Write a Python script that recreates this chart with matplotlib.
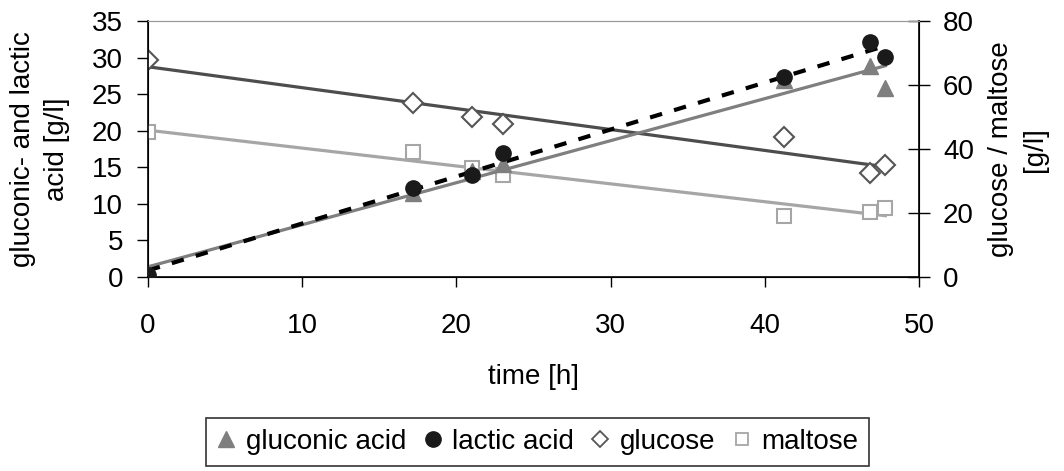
import numpy as np
import matplotlib
matplotlib.use('Agg')
import matplotlib.pyplot as plt

plt.rcParams['font.family'] = ['Liberation Sans', 'DejaVu Sans']

# time points [h]
time = [0, 17.2, 21, 23, 41.2, 46.8, 47.8]
# acids [g/l] (left axis)
gluconic = [0.0, 11.5, 14.5, 15.4, 27.0, 28.8, 25.9]
lactic = [0.3, 12.2, 13.9, 17.0, 27.3, 32.1, 30.1]
# sugars [g/l] (right axis)
glucose = [67.8, 54.4, 50.0, 47.8, 43.8, 32.5, 35.0]
maltose = [45.3, 39.0, 34.0, 32.0, 19.0, 20.3, 21.5]

t = np.array(time)
tt = np.array([0, max(time)])

def trend(y):
    k, d = np.polyfit(t, np.array(y), 1)
    return k * tt + d

fig = plt.figure(figsize=(10.64, 4.71), dpi=100)
ax = fig.add_axes([0.139, 0.412, 0.725, 0.543])
ax2 = ax.twinx()

# sugars on secondary axis
ax2.plot(tt, trend(glucose), color='#4d4d4d', lw=2.3, zorder=2)
ax2.plot(tt, trend(maltose), color='#a6a6a6', lw=2.3, zorder=2)
ax2.plot(time, glucose, 'D', ms=10, mfc='white', mec='#555555', mew=1.5, zorder=3)
ax2.plot(time, maltose, 's', ms=10, mfc='white', mec='#a6a6a6', mew=1.5, zorder=3)

ax2.set_zorder(1)
ax.set_zorder(2)
ax.patch.set_visible(False)

ax.plot(tt, trend(gluconic), color='#7f7f7f', lw=2.3, zorder=2)
ax.plot(tt, trend(lactic), color='black', lw=3, ls=(0, (3, 3)), zorder=2)
ax.plot(time, gluconic, '^', ms=12, color='#7f7f7f', zorder=3)
ax.plot(time, lactic, 'o', ms=11, color='#1a1a1a', zorder=4)

ax.set_xlim(0, 50)
ax.set_ylim(0, 35)
ax2.set_ylim(0, 80)
ax.set_xticks(range(0, 51, 10))
ax.set_yticks(range(0, 36, 5))
ax2.set_yticks(range(0, 81, 20))

ax.tick_params(axis='x', labelsize=20, length=7, width=1, direction='out', pad=19)
ax.tick_params(axis='y', labelsize=20, length=8, width=1, direction='out', pad=10)
ax2.tick_params(axis='y', labelsize=20, length=16, width=1, direction='inout', pad=9)
for a in (ax, ax2):
    a.spines['top'].set_color('#999999')
ax.spines['left'].set_linewidth(1.2)
ax.spines['bottom'].set_linewidth(1.2)
ax2.spines['right'].set_linewidth(1.2)

ax.set_xlabel('time [h]', fontsize=20, labelpad=18)
ax.set_ylabel('gluconic- and lactic\nacid [g/l]', fontsize=20, labelpad=16, linespacing=1.4)
ax2.set_ylabel('glucose / maltose\n[g/l]', fontsize=20, labelpad=10, linespacing=1.4)

handles = [
    plt.Line2D([], [], ls='none', marker='^', ms=12, color='#7f7f7f'),
    plt.Line2D([], [], ls='none', marker='o', ms=11, color='#1a1a1a'),
    plt.Line2D([], [], ls='none', marker='D', ms=8, mfc='white', mec='#555555', mew=1.3),
    plt.Line2D([], [], ls='none', marker='s', ms=9, mfc='white', mec='#a6a6a6', mew=1.3),
]
labels = ['gluconic acid', 'lactic acid', 'glucose', 'maltose']
leg = fig.legend(handles, labels, loc='center', bbox_to_anchor=(0.505, 0.062), ncol=4,
                 fontsize=20, frameon=True, fancybox=False, edgecolor='black',
                 handlelength=0.7, handletextpad=0.35, columnspacing=0.6, borderpad=0.4)
leg.get_frame().set_linewidth(1.2)

fig.savefig('out.png', dpi=100)
